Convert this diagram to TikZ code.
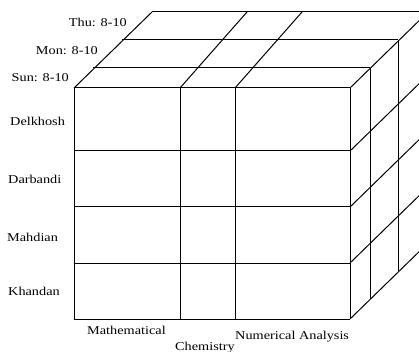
\documentclass[tikz,border=0pt]{standalone}
\usepackage{fontspec}
\setmainfont{Liberation Serif}
\newcommand{\wlab}[1]{\scalebox{1.19}[1]{#1}}
\begin{document}
\begin{tikzpicture}[x=1pt,y=-1pt,
  edge/.style={line width=1pt,draw=black},
  lab/.style={inner sep=0pt,font=\fontsize{12}{14}\selectfont}]
\useasboundingbox (0,0) rectangle (419,352);
\clip (0,0) rectangle (419,352);
% front face
\foreach \y in {88,151,207,263,319} \draw[edge] (74,\y) -- (350,\y);
\foreach \x in {74,180,235,350} \draw[edge] (\x,88) -- (\x,319);
% top face
\draw[edge] (93,68) -- (370,68);
\draw[edge] (122,40) -- (398,40);
\draw[edge] (152,12) -- (428,12);
\draw[edge] (74,88) -- (152,12);
\draw[edge] (180,88) -- (247,12);
\draw[edge] (235,88) -- (302,12);
\draw[edge] (350,88) -- (428,12);
% right face
\foreach \y in {151,207,263,319} \draw[edge] (350,\y) -- (428,\y-76);
\draw[edge] (370,68) -- (370,299);
\draw[edge] (398,40) -- (398,271);
\draw[edge] (428,12) -- (428,243);
% labels
\node[lab,anchor=base east] (thu) at (127,27) {\wlab{Thu: 8-10}};
\node[lab,anchor=base east] (mon) at (98,55) {\wlab{Mon: 8-10}};
\node[lab,anchor=base east] (sun) at (69,82) {\wlab{Sun: 8-10}};
\node[lab,anchor=base west] (del) at (10,126) {\wlab{Delkhosh}};
\node[lab,anchor=base west] (dar) at (8,184) {\wlab{Darbandi}};
\node[lab,anchor=base west] (mah) at (7,241) {\wlab{Mahdian}};
\node[lab,anchor=base west] (kha) at (8,295) {\wlab{Khandan}};
\node[lab,anchor=base west] (mat) at (87,334) {\wlab{Mathematical}};
\node[lab,anchor=base west] (che) at (175,350) {\wlab{Chemistry}};
\node[lab,anchor=base west] (num) at (235,339) {\wlab{Numerical Analysis}};
\end{tikzpicture}
\end{document}
